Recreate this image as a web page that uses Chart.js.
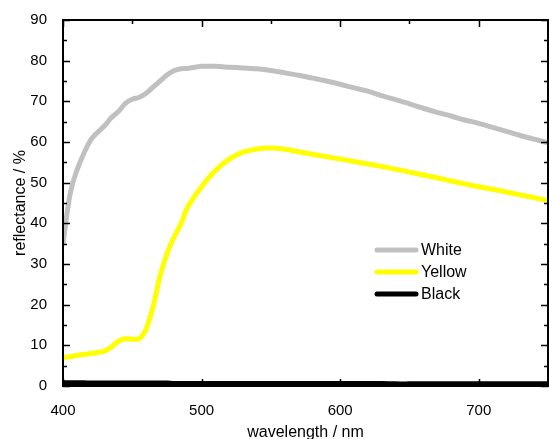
<!DOCTYPE html>
<html>
<head>
<meta charset="utf-8">
<script src="https://cdn.jsdelivr.net/npm/chart.js@4.4.1/dist/chart.umd.min.js"></script>
<style>
  html, body { margin: 0; padding: 0; background: #fff; }
  #wrap { width: 549px; height: 439px; }
</style>
</head>
<body>
<div id="wrap"><canvas id="spectre"></canvas></div>
<script>
// Réflectance des pigments en fonction de la longueur d'onde

const wavelengths = [400, 405, 410, 420, 430, 435, 440, 445, 450, 455, 460, 465, 470, 475, 480, 485, 490,
  500, 510, 520, 530, 540, 550, 560, 570, 580, 590, 600, 610, 620, 630, 640, 650, 660, 670, 680, 690,
  700, 710, 720, 730, 740, 750];

const white = [35, 47, 53, 60.5, 64, 66, 67.5, 69.5, 70.5, 71, 72, 73.5, 75, 76.5, 77.5, 78, 78.1,
  78.6, 78.6, 78.4, 78.2, 78, 77.6, 77, 76.4, 75.7, 75, 74.2, 73.3, 72.5, 71.4, 70.4, 69.4, 68.3, 67.3, 66.4, 65.4,
  64.6, 63.6, 62.6, 61.6, 60.7, 59.8];

const yellow = [7, 7.2, 7.5, 8, 8.6, 9.6, 11, 11.6, 11.5, 11.6, 14, 19.5, 27, 32.5, 36.5, 39.8, 44,
  49, 53, 55.8, 57.5, 58.3, 58.5, 58.2, 57.6, 57, 56.4, 55.8, 55.2, 54.6, 54, 53.3, 52.6, 51.9, 51.2, 50.4, 49.7,
  49, 48.4, 47.7, 47, 46.3, 45.6];

const black = [0.7, 0.7, 0.7, 0.6, 0.6, 0.6, 0.6, 0.6, 0.6, 0.6, 0.6, 0.6, 0.6, 0.6, 0.5, 0.5, 0.5,
  0.5, 0.5, 0.5, 0.5, 0.5, 0.5, 0.5, 0.5, 0.5, 0.5, 0.5, 0.5, 0.5, 0.5, 0.4, 0.4, 0.4, 0.4, 0.4, 0.4,
  0.4, 0.4, 0.4, 0.4, 0.4, 0.4];

const xTicks = [400, 500, 600, 700];

const seriesNames = ["White", "Yellow", "Black"];
const seriesColors = ["#c0c0c0", "#ffff00", "#000000"];

const FONT = "'Liberation Sans', Arial, sans-serif";

function toPoints(values) {
  return wavelengths.map((w, i) => ({ x: w, y: values[i] }));
}

// Cadre, graduations intérieures et légende dessinés à la main
const cadrePlugin = {
  id: "cadre",
  afterDraw(chart) {
    const ctx = chart.ctx;
    const a = chart.chartArea;
    const xs = chart.scales.x;
    const ys = chart.scales.y;
    ctx.save();
    ctx.strokeStyle = "#000";
    ctx.lineWidth = 2;
    ctx.strokeRect(a.left, a.top, a.right - a.left, a.bottom - a.top);

    ctx.lineWidth = 1.5;
    ctx.beginPath();
    for (let v = 400; v <= 750; v += 50) {
      const px = Math.round(xs.getPixelForValue(v)) + 0.5;
      const len = v % 100 === 0 ? 7 : 4;
      ctx.moveTo(px, a.bottom); ctx.lineTo(px, a.bottom - len);
      ctx.moveTo(px, a.top); ctx.lineTo(px, a.top + len);
    }
    for (let v = 0; v <= 90; v += 5) {
      const py = Math.round(ys.getPixelForValue(v)) + 0.5;
      const len = v % 10 === 0 ? 7 : 4;
      ctx.moveTo(a.left, py); ctx.lineTo(a.left + len, py);
      ctx.moveTo(a.right, py); ctx.lineTo(a.right - len, py);
    }
    ctx.stroke();

    // Légende
    ctx.font = "16px " + FONT;
    ctx.textBaseline = "middle";
    ctx.textAlign = "left";
    chart.data.datasets.forEach((ds, i) => {
      const y = 250 + i * 22;
      ctx.strokeStyle = ds.borderColor;
      ctx.lineWidth = 5;
      ctx.lineCap = "round";
      ctx.beginPath();
      ctx.moveTo(377, y); ctx.lineTo(416, y);
      ctx.stroke();
      ctx.fillStyle = "#000";
      ctx.fillText(ds.label, 421, y + 1);
    });
    ctx.restore();
  },
};

new Chart(document.getElementById("spectre"), {
  type: "line",
  data: {
    datasets: seriesNames.map((name, i) => ({
      label: name,
      data: toPoints([white, yellow, black][i]),
      borderColor: seriesColors[i],
      backgroundColor: seriesColors[i],
      borderWidth: i === 2 ? 6 : 5,
      pointRadius: 0,
      tension: 0.3,
      fill: false,
    })),
  },
  options: {
    responsive: true,
    maintainAspectRatio: false,
    animation: false,
    layout: { padding: { top: 20, right: 1, left: 0, bottom: 0 } },
    plugins: {
      legend: { display: false },
      tooltip: { enabled: false },
    },
    scales: {
      x: {
        type: "linear",
        min: 400,
        max: 750,
        grid: { display: false },
        border: { display: false },
        afterBuildTicks(scale) {
          scale.ticks = xTicks.map((v) => ({ value: v }));
        },
        ticks: {
          color: "#000",
          padding: 8,
          maxRotation: 0,
          font: { family: FONT, size: 15 },
        },
        title: {
          display: true,
          text: "wavelength / nm",
          color: "#000",
          font: { family: FONT, size: 16 },
          padding: { top: 0, bottom: -3 },
        },
        afterFit(scale) { scale.height = 53; },
      },
      y: {
        min: 0,
        max: 90,
        grid: { display: false },
        border: { display: false },
        ticks: {
          stepSize: 10,
          color: "#000",
          padding: 8,
          font: { family: FONT, size: 15 },
        },
        title: {
          display: true,
          text: "reflectance / %",
          color: "#000",
          font: { family: FONT, size: 16 },
          padding: { top: 11, bottom: 0 },
        },
        afterFit(scale) { scale.width = 63; },
      },
    },
  },
  plugins: [cadrePlugin],
});
</script>
</body>
</html>
